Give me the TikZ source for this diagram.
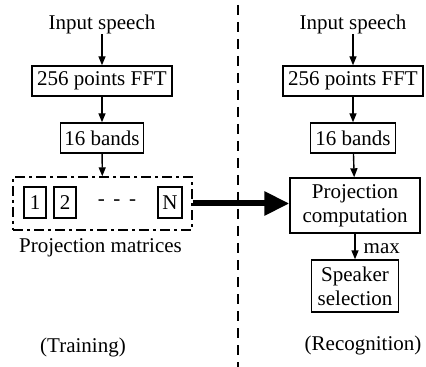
\documentclass[tikz,border=0pt]{standalone}
\usepackage{fontspec}
\setmainfont{Liberation Serif}
\usetikzlibrary{positioning,arrows.meta}

\begin{document}
\begin{tikzpicture}[->,>={Triangle[length=4.5pt,width=3.5pt]},line width=0.7pt,node distance=28.5pt,
    block node/.style={draw,rectangle,inner sep=1.5pt,minimum height=15pt,font=\fontsize{10.5pt}{12pt}\selectfont},
    text node/.style={inner sep=0pt,font=\fontsize{10.5pt}{12pt}\selectfont},
    small node/.style={draw,rectangle,inner sep=0pt,minimum width=11pt,minimum height=15.5pt,font=\fontsize{10.5pt}{12pt}\selectfont}]
                \useasboundingbox (0,0) rectangle (213pt,-183.5pt);

                % training side
                \node[text node] (in1) at (51pt,-12pt) {Input speech};
                \node[block node,minimum width=70pt] (fft1) [below of=in1] {256 points FFT};
                \node[block node,minimum width=41.5pt] (band1) [below of=fft1] {16 bands};
                \node[draw,rectangle,dash pattern=on 5pt off 2pt on 1.5pt off 2pt,minimum width=89.5pt,minimum height=26.5pt] (mats) at (51.25pt,-101.75pt) {};
                \node[small node] (m1) at (17.5pt,-101.25pt) {1};
                \node[small node] (m2) at (32.5pt,-101.25pt) {2};
                \node[text node] (dots) at (58.5pt,-101.25pt) {-\, -\, -};
                \node[small node,minimum width=12pt] (mN) at (85pt,-101.25pt) {N};
                \node[text node] (matlbl) [below of=mats,node distance=22.25pt,xshift=-1pt] {Projection matrices};
                \node[text node] (train) at (41.5pt,-173.5pt) {(Training)};

                % recognition side
                \node[text node] (in2) at (176.5pt,-12pt) {Input speech};
                \node[block node,minimum width=70pt] (fft2) [below of=in2] {256 points FFT};
                \node[block node,minimum width=42.5pt] (band2) [below of=fft2] {16 bands};
                \node[block node,align=center,minimum width=65pt,minimum height=27.5pt] (proj) at (177.5pt,-102.75pt) {Projection\\computation};
                \node[block node,align=center,minimum width=43.5pt,minimum height=26pt] (spk) at (177.5pt,-143pt) {Speaker\\selection};
                \node[text node] (recog) at (181.5pt,-172.5pt) {(Recognition)};

                % separator
                \coordinate (septop) at (119pt,-2.5pt);
                \coordinate (sepbot) at (119pt,-183.5pt);
                \draw[-,line width=1pt,dash pattern=on 5pt off 3.5pt] (septop) -- (sepbot);

                \path
                    (in1) edge (fft1)
                    (fft1) edge (band1)
                    (band1) edge (mats)
                    (in2) edge (fft2)
                    (fft2) edge (band2)
                    (band2) edge (proj)
                    (proj) edge node[text node,right=4pt,pos=0.6] {max} (spk)
                    ;
                \draw[-{Triangle[length=12.5pt,width=11.5pt]},line width=3pt] (mats.east) -- (mats.east -| proj.west);
            \end{tikzpicture}
\end{document}
